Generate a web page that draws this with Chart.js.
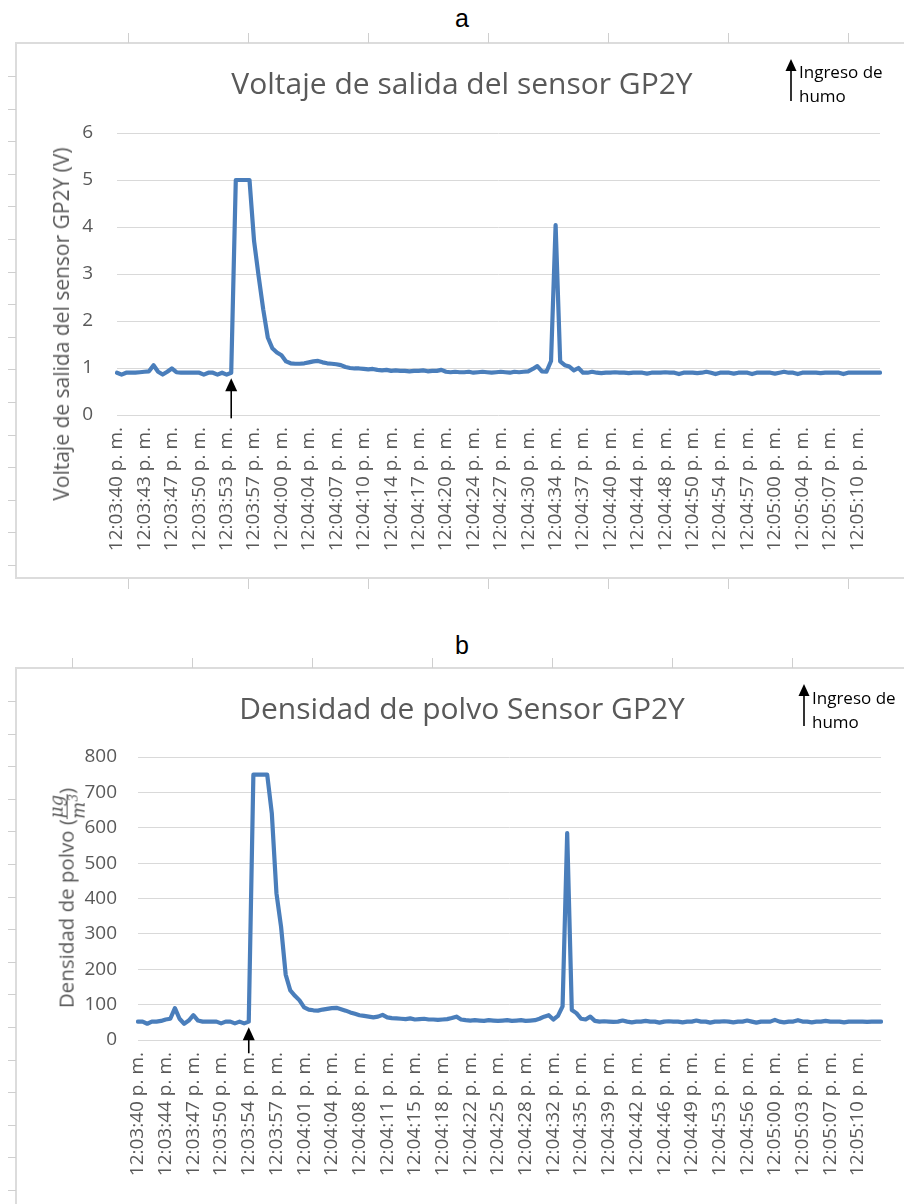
<!DOCTYPE html>
<html>
<head>
<meta charset="utf-8">
<script src="https://cdn.jsdelivr.net/npm/chart.js@4.4.0/dist/chart.umd.min.js"></script>
<style>
  body { margin: 0; background: #fff; width: 904px; height: 1204px; position: relative; overflow: hidden; font-family: "Open Sans", sans-serif; }
  .panel { position: absolute; left: 15px; width: 900px; border: 2px solid #dcdcdc; box-sizing: border-box; }
  .tag { position: absolute; font-family: "Liberation Sans", Arial, sans-serif; font-size: 25px; color: #000; transform: translate(-50%, -50%); }
  .box { position: absolute; left: 0; width: 904px; }
  .rule { position: absolute; background: #cfcfcf; }
  .ytitle { position: absolute; color: #595959; white-space: nowrap; transform: translate(-50%, -50%) rotate(-90deg); }
  .legend { position: absolute; font-size: 17px; line-height: 24px; color: #000; white-space: nowrap; }
  .frac { display: inline-flex; flex-direction: column; vertical-align: middle; text-align: center;
          font-family: "DejaVu Serif", serif; font-style: italic; font-size: 18px; line-height: 1.05; }
  .frac .num { border-bottom: 1px solid #595959; padding: 0 1px; }
  .frac sup { font-size: 12px; }
</style>
</head>
<body>
<div class="tag" style="left:462px; top:18px">a</div>
<div class="tag" style="left:462px; top:645px">b</div>
<div class="panel" style="top:42px; height:537px"></div>
<div class="panel" style="top:667px; height:545px"></div>
<div id="rules"></div>

<div class="box" style="top:43px; height:534px"><canvas id="chartA" width="904" height="534"></canvas></div>
<div class="box" style="top:668px; height:536px"><canvas id="chartB" width="904" height="536"></canvas></div>

<div class="ytitle" style="left:61px; top:324px; font-size:21px">Voltaje de salida del sensor GP2Y (V)</div>
<div class="ytitle" style="left:68px; top:898px; font-size:20.5px">Densidad de polvo (<span class="frac"><span class="num">μg</span><span>m<sup>3</sup></span></span>)</div>

<svg style="position:absolute; left:785px; top:58px" width="12" height="44"><polygon points="6,1 0.5,13 11.5,13" fill="#000"/><line x1="6" y1="12" x2="6" y2="43" stroke="#000" stroke-width="1.6"/></svg>
<div class="legend" style="left:799px; top:60px">Ingreso de<br>humo</div>
<svg style="position:absolute; left:798px; top:683px" width="12" height="44"><polygon points="6,1 0.5,13 11.5,13" fill="#000"/><line x1="6" y1="12" x2="6" y2="43" stroke="#000" stroke-width="1.6"/></svg>
<div class="legend" style="left:812px; top:686px">Ingreso de<br>humo</div>

<script>
// one visible time label every K samples
const K = 6;

const tickLabelsA = ['12:03:40 p. m.', '12:03:43 p. m.', '12:03:47 p. m.', '12:03:50 p. m.', '12:03:53 p. m.', '12:03:57 p. m.',
    '12:04:00 p. m.', '12:04:04 p. m.', '12:04:07 p. m.', '12:04:10 p. m.', '12:04:14 p. m.', '12:04:17 p. m.',
    '12:04:20 p. m.', '12:04:24 p. m.', '12:04:27 p. m.', '12:04:30 p. m.', '12:04:34 p. m.', '12:04:37 p. m.',
    '12:04:40 p. m.', '12:04:44 p. m.', '12:04:48 p. m.', '12:04:50 p. m.', '12:04:54 p. m.', '12:04:57 p. m.',
    '12:05:00 p. m.', '12:05:04 p. m.', '12:05:07 p. m.', '12:05:10 p. m.'];

const voltage = [
    0.90, 0.86, 0.90, 0.90, 0.90, 0.91, 0.92, 0.93, 1.06, 0.92,
    0.86, 0.92, 0.99, 0.91, 0.90, 0.90, 0.90, 0.90, 0.90, 0.86,
    0.90, 0.90, 0.86, 0.90, 0.86, 0.90, 5.00, 5.00, 5.00, 5.00,
    3.70, 2.95, 2.25, 1.65, 1.42, 1.33, 1.27, 1.14, 1.10, 1.09,
    1.09, 1.10, 1.12, 1.14, 1.15, 1.12, 1.10, 1.09, 1.08, 1.06,
    1.02, 1.00, 0.99, 0.99, 0.98, 0.97, 0.98, 0.96, 0.95, 0.96,
    0.94, 0.95, 0.94, 0.94, 0.93, 0.94, 0.94, 0.95, 0.93, 0.94,
    0.94, 0.96, 0.92, 0.91, 0.92, 0.91, 0.91, 0.92, 0.90, 0.91,
    0.92, 0.91, 0.90, 0.91, 0.92, 0.91, 0.90, 0.92, 0.91, 0.92,
    0.93, 0.98, 1.04, 0.93, 0.92, 1.15, 4.04, 1.14, 1.06, 1.03,
    0.95, 1.00, 0.90, 0.90, 0.92, 0.90, 0.89, 0.90, 0.90, 0.91,
    0.90, 0.90, 0.89, 0.90, 0.90, 0.90, 0.88, 0.90, 0.90, 0.90,
    0.91, 0.90, 0.90, 0.87, 0.90, 0.90, 0.90, 0.89, 0.90, 0.92,
    0.90, 0.87, 0.90, 0.90, 0.90, 0.88, 0.90, 0.90, 0.90, 0.87,
    0.90, 0.90, 0.90, 0.90, 0.88, 0.90, 0.92, 0.90, 0.90, 0.87,
    0.90, 0.90, 0.90, 0.90, 0.89, 0.90, 0.90, 0.90, 0.90, 0.87,
    0.90, 0.90, 0.90, 0.90, 0.90, 0.90, 0.90, 0.90];

const tickLabelsB = ['12:03:40 p. m.', '12:03:44 p. m.', '12:03:47 p. m.', '12:03:50 p. m.', '12:03:54 p. m.', '12:03:57 p. m.',
    '12:04:01 p. m.', '12:04:04 p. m.', '12:04:08 p. m.', '12:04:11 p. m.', '12:04:15 p. m.', '12:04:18 p. m.',
    '12:04:22 p. m.', '12:04:25 p. m.', '12:04:28 p. m.', '12:04:32 p. m.', '12:04:35 p. m.', '12:04:39 p. m.',
    '12:04:42 p. m.', '12:04:46 p. m.', '12:04:49 p. m.', '12:04:53 p. m.', '12:04:56 p. m.', '12:05:00 p. m.',
    '12:05:03 p. m.', '12:05:07 p. m.', '12:05:10 p. m.'];

const density = [
    52, 52, 46, 52, 52, 54, 58, 60, 90, 60,
    46, 55, 70, 55, 52, 52, 52, 52, 47, 52,
    52, 47, 52, 47, 52, 750, 750, 750, 750, 640,
    415, 320, 185, 140, 125, 112, 92, 86, 84, 83,
    86, 88, 90, 91, 87, 83, 78, 74, 70, 68,
    66, 64, 66, 71, 64, 62, 61, 60, 59, 61,
    58, 59, 60, 58, 58, 57, 58, 59, 62, 66,
    58, 56, 55, 56, 55, 54, 56, 55, 54, 55,
    56, 54, 55, 56, 54, 55, 56, 60, 66, 70,
    58, 68, 95, 585, 85, 76, 60, 58, 66, 54,
    52, 53, 52, 51, 52, 55, 52, 50, 52, 52,
    54, 52, 52, 49, 52, 53, 52, 52, 50, 52,
    52, 55, 52, 52, 49, 52, 52, 53, 52, 50,
    52, 52, 55, 52, 49, 52, 52, 52, 57, 52,
    50, 52, 52, 56, 52, 52, 50, 52, 52, 54,
    52, 52, 52, 50, 52, 52, 52, 52, 51, 52,
    52, 52];

const smokeIndexA = 25;
const smokeIndexB = 24;

function categories(ticks, n) {
    var out = [];
    for (var i = 0; i < n; i++) {
        out.push(i % K === 0 && ticks[i / K] ? ticks[i / K] : '');
    }
    return out;
}

// word-ruler marks around the two frames
(function () {
    var host = document.getElementById('rules');
    function mark(l, t, w, h) {
        var d = document.createElement('div');
        d.className = 'rule';
        d.style.cssText = 'left:' + l + 'px;top:' + t + 'px;width:' + w + 'px;height:' + h + 'px';
        host.appendChild(d);
    }
    for (var j = 0; j < 7; j++) {
        mark(128 + 120 * j, 33, 1, 10);
        mark(128 + 120 * j, 579, 1, 10);
        mark(72 + 120 * j, 658, 1, 10);
    }
    for (var y = 76; y < 570; y += 32.6) mark(8, Math.round(y), 8, 1);
    for (var y2 = 701; y2 < 1204; y2 += 32.6) mark(8, Math.round(y2), 8, 1);
})();

const smokeArrow = {
    id: 'smokeArrow',
    afterDatasetsDraw: function (chart, args, o) {
        var ctx = chart.ctx;
        var x = chart.scales.x.getPixelForValue(o.index);
        var y0 = chart.scales.y.getPixelForValue(o.top);
        ctx.save();
        ctx.fillStyle = '#000';
        ctx.strokeStyle = '#000';
        ctx.lineWidth = 1.6;
        ctx.beginPath();
        ctx.moveTo(x, y0);
        ctx.lineTo(x - 6, y0 + 13);
        ctx.lineTo(x + 6, y0 + 13);
        ctx.closePath();
        ctx.fill();
        ctx.beginPath();
        ctx.moveTo(x, y0 + 10);
        ctx.lineTo(x, y0 + o.length);
        ctx.stroke();
        ctx.restore();
    }
};

function getConfig(c) {
    var font = { family: 'Open Sans', size: 19 };
    return {
        type: 'line',
        data: {
            labels: categories(c.ticks, c.values.length),
            datasets: [{
                data: c.values,
                borderColor: '#4a7ebb',
                borderWidth: 4.2,
                borderJoinStyle: 'round',
                borderCapStyle: 'round',
                pointRadius: 0,
                tension: 0
            }]
        },
        plugins: [smokeArrow],
        options: {
            responsive: false,
            animation: false,
            // left pad chosen so the centred title sits over the page middle
            layout: { padding: { left: c.left, right: c.right, top: 0, bottom: 0 } },
            plugins: {
                legend: { display: false },
                tooltip: { enabled: false },
                title: {
                    display: true,
                    text: c.title,
                    color: '#595959',
                    font: { family: 'Open Sans', size: 30, weight: 'normal' },
                    padding: { top: 24, bottom: c.titleGap }
                },
                smokeArrow: c.arrow
            },
            scales: {
                x: {
                    grid: { display: false, drawTicks: false },
                    border: { display: false },
                    ticks: { autoSkip: false, minRotation: 90, maxRotation: 90, padding: 12, color: '#595959', font: font },
                    afterBuildTicks: function (s) { s.ticks = s.ticks.filter(function (t) { return t.value % K === 0; }); },
                    afterFit: function (s) { s.height = c.xHeight; }
                },
                y: {
                    min: 0,
                    max: c.max,
                    grid: { color: '#d9d9d9', drawTicks: false },
                    border: { display: false },
                    ticks: { stepSize: c.step, padding: c.tickPad, color: '#595959', font: font },
                    afterFit: function (s) { s.width = c.yWidth; }
                }
            }
        }
    };
}

new Chart(document.getElementById('chartA').getContext('2d'), getConfig({
    title: 'Voltaje de salida del sensor GP2Y',
    ticks: tickLabelsA, values: voltage, max: 6, step: 1,
    left: 44, yWidth: 73, xHeight: 162, right: 24, titleGap: 30, tickPad: 24,
    arrow: { index: smokeIndexA, top: 0.78, length: 40 }
}));

new Chart(document.getElementById('chartB').getContext('2d'), getConfig({
    title: 'Densidad de polvo Sensor GP2Y',
    ticks: tickLabelsB, values: density, max: 800, step: 100,
    left: 43, yWidth: 95, xHeight: 164, right: 23, titleGap: 29, tickPad: 21,
    arrow: { index: smokeIndexB, top: 36, length: 26 }
}));
</script>
</body>
</html>
